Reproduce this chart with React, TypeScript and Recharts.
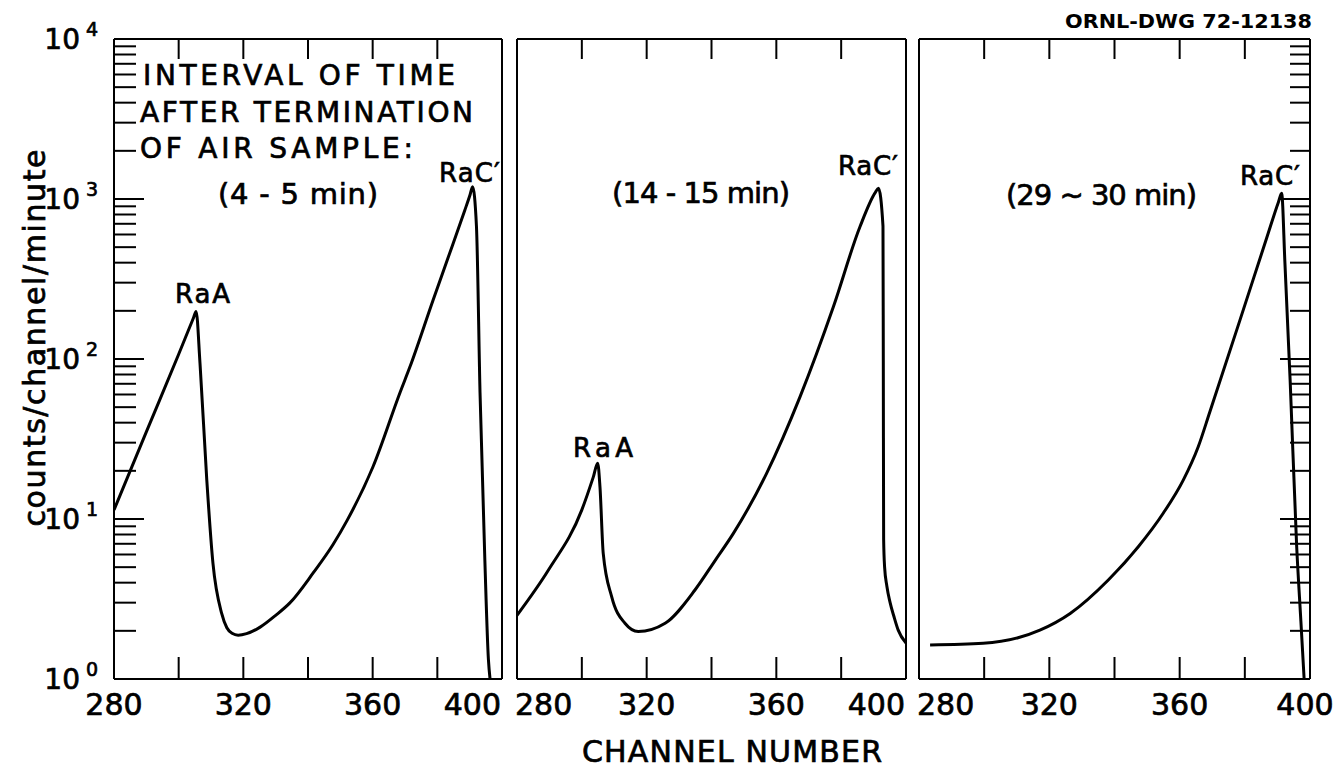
import React from 'react';
import { LineChart, Line, XAxis, YAxis } from 'recharts';

// ---------- data ----------
const panel1Channels = [280, 290, 300, 304.5, 305.4, 306.6, 308.7, 310.6, 313.3, 314.9, 316.5, 318.4, 321, 325.2, 330, 334.4, 341.6, 347.7, 352.1, 360.1, 368.5, 371.5, 378.7, 383.1, 388.5, 390.1, 390.9, 392.1, 393.2, 394.7, 395.8, 396.3];
const panel1Counts = [11.4, 35, 107, 179, 198, 94, 17.5, 5.3, 2.57, 2.09, 1.93, 1.88, 1.92, 2.11, 2.5, 2.99, 4.6, 6.9, 9.8, 21.2, 62, 89, 234, 417, 851, 1059, 1194, 676, 62, 5.5, 1.32, 1.0];

const panel2Channels = [280, 289.7, 300, 303.5, 304.9, 305.6, 306.6, 309.2, 313.3, 317.4, 325.7, 334.9, 341.1, 346.7, 357, 367.3, 377.6, 385.8, 390.5, 391.5, 392.9, 393.0, 393.1, 393.4, 394.1, 395.1, 396.3, 397.6, 400];
const panel2Counts = [2.5, 4.8, 11.4, 18.2, 22.3, 15.8, 6.1, 3.27, 2.23, 1.98, 2.23, 3.6, 5.5, 8.1, 19.3, 58, 212, 671, 1096, 1166, 676, 98, 7.5, 5.0, 3.8, 3.0, 2.45, 2.02, 1.68];

const panel3Channels = [283.4, 299.7, 317.1, 326.4, 338.1, 347.3, 355, 361.1, 365.7, 369.3, 378.5, 386.7, 390.3, 391.3, 392.3, 393.9, 395.9, 397.2, 398.2];
const panel3Counts = [1.63, 1.67, 2.02, 2.57, 4.16, 6.71, 10.9, 17.5, 28.3, 47, 175, 570, 955, 1085, 400, 74, 6.8, 2.3, 1.0];

const xTicks = [280, 300, 320, 340, 360, 380, 400];
const xLabelledTicks = [280, 320, 360, 400];
const yTicks = [1, 2, 3, 4, 5, 6, 7, 8, 9, 10, 20, 30, 40, 50, 60, 70, 80, 90, 100, 200, 300, 400, 500, 600, 700, 800, 900, 1000, 2000, 3000, 4000, 5000, 6000, 7000, 8000, 9000, 10000];
const yDecades = [1, 10, 100, 1000, 10000];

const intervalLabels = ['(4 - 5 min)', '(14 - 15 min)', '(29 ~ 30 min)'];
const headerLines = ['INTERVAL OF TIME', 'AFTER TERMINATION', 'OF AIR SAMPLE:'];
const drawingId = 'ORNL-DWG 72-12138';
const xTitle = 'CHANNEL NUMBER';
const yTitle = 'counts/channel/minute';
const peakRaA = 'RaA';
const peakRaC = 'RaC\u2032';

const build = (ch: number[], v: number[]) => ch.map((c, i) => ({ ch: c, v: v[i] }));
const panelData = [
  build(panel1Channels, panel1Counts),
  build(panel2Channels, panel2Counts),
  build(panel3Channels, panel3Counts),
];

// ---------- layout ----------
const W = 1340;
const H = 768;
const TOP = 39;
const BOTTOM = 679;
const PANELS = [
  { left: 114, right: 502 },
  { left: 517, right: 906 },
  { left: 919, right: 1310 },
];
const AX_TOP_H = 10;
const AX_BOTTOM_H = 40;
const AX_SIDE_W = 10;
const FONT = '"DejaVu Sans", "Liberation Sans", sans-serif';
const frameLine = { stroke: '#000', strokeWidth: 2 };
const heavy = { stroke: '#000', strokeWidth: 0.7 };

const renderBottomTick = (panel: number) => (props: any) => {
  const { x, y, payload } = props;
  const v = payload.value;
  const edge = v === 280 || v === 400;
  let anchor: 'middle' | 'start' | 'end' = 'middle';
  let dx = 0;
  if (panel > 0 && v === 280) { anchor = 'start'; dx = -2; }
  if (panel < 2 && v === 400) { anchor = 'end'; dx = -1; }
  if (panel === 2 && v === 400) { dx = -5; }
  return (
    <g>
      {!edge && <line x1={x} y1={y} x2={x} y2={y - 22} stroke="#000" strokeWidth={2} />}
      {xLabelledTicks.includes(v) && (
        <text x={x + dx} y={y + 36} textAnchor={anchor} fontFamily={FONT} fontSize={30} fill="#000" {...heavy}>
          {v}
        </text>
      )}
    </g>
  );
};

const renderTopTick = (props: any) => {
  const { x, y, payload } = props;
  const v = payload.value;
  if (v === 280 || v === 400) return <g />;
  return <line x1={x} y1={y} x2={x} y2={y + 20} stroke="#000" strokeWidth={2} />;
};

const renderLeftTick = (props: any) => {
  const { x, y, payload } = props;
  const v = payload.value;
  const isDecade = yDecades.includes(v);
  const len = isDecade ? 30 : 22;
  const exp = Math.round(Math.log10(v));
  return (
    <g>
      <line x1={x} y1={y} x2={x + len} y2={y} stroke="#000" strokeWidth={2} />
      {isDecade && (
        <text x={x - 34} y={y + 10} textAnchor="end" fontFamily={FONT} fontSize={28} fill="#000" {...heavy}>
          10
        </text>
      )}
      {isDecade && (
        <text x={x - 28} y={y - 3} textAnchor="start" fontFamily={FONT} fontSize={19} fill="#000" {...heavy}>
          {exp}
        </text>
      )}
    </g>
  );
};

const renderRightTick = (props: any) => {
  const { x, y, payload } = props;
  const v = payload.value;
  const len = yDecades.includes(v) ? 30 : 20;
  return <line x1={x} y1={y} x2={x - len} y2={y} stroke="#000" strokeWidth={2} />;
};

function Panel({ index }: { index: number }) {
  const { left, right } = PANELS[index];
  const margin = {
    top: TOP - AX_TOP_H,
    bottom: H - BOTTOM - AX_BOTTOM_H,
    left: left - AX_SIDE_W,
    right: W - right - AX_SIDE_W,
  };
  return (
    <div style={{ position: 'absolute', left: 0, top: 0, width: W, height: H }}>
      <LineChart width={W} height={H} data={panelData[index]} margin={margin}>
        <XAxis
          xAxisId="b"
          dataKey="ch"
          type="number"
          domain={[280, 400]}
          ticks={xTicks}
          interval={0}
          allowDataOverflow
          orientation="bottom"
          height={AX_BOTTOM_H}
          tickSize={0}
          tickMargin={0}
          tickLine={false}
          axisLine={frameLine}
          tick={renderBottomTick(index)}
        />
        <XAxis
          xAxisId="t"
          dataKey="ch"
          type="number"
          domain={[280, 400]}
          ticks={xTicks}
          interval={0}
          allowDataOverflow
          orientation="top"
          height={AX_TOP_H}
          tickSize={0}
          tickMargin={0}
          tickLine={false}
          axisLine={frameLine}
          tick={renderTopTick}
        />
        <YAxis
          yAxisId="l"
          type="number"
          scale="log"
          domain={[1, 10000]}
          ticks={yTicks}
          interval={0}
          allowDataOverflow
          orientation="left"
          width={AX_SIDE_W}
          tickSize={0}
          tickMargin={0}
          tickLine={false}
          axisLine={frameLine}
          tick={index === 0 ? renderLeftTick : false}
        />
        <YAxis
          yAxisId="r"
          type="number"
          scale="log"
          domain={[1, 10000]}
          ticks={yTicks}
          interval={0}
          allowDataOverflow
          orientation="right"
          width={AX_SIDE_W}
          tickSize={0}
          tickMargin={0}
          tickLine={false}
          axisLine={frameLine}
          tick={index === 2 ? renderRightTick : false}
        />
        <Line
          xAxisId="b"
          yAxisId="l"
          dataKey="v"
          type="monotone"
          stroke="#000"
          strokeWidth={3}
          dot={false}
          isAnimationActive={false}
        />
      </LineChart>
    </div>
  );
}

function Overlay() {
  const t = { fontFamily: FONT, fill: '#000', ...heavy } as const;
  return (
    <svg width={W} height={H} style={{ position: 'absolute', left: 0, top: 0, pointerEvents: 'none' }}>
      <text x={1312} y={28} textAnchor="end" fontSize={19} fontWeight="bold" fontFamily={FONT} fill="#000" textLength={247} lengthAdjust="spacingAndGlyphs">{drawingId}</text>

      <text x={143} y={85} fontSize={28} {...t} textLength={312} lengthAdjust="spacing">{headerLines[0]}</text>
      <text x={140} y={122} fontSize={28} {...t} textLength={333} lengthAdjust="spacing">{headerLines[1]}</text>
      <text x={140} y={158} fontSize={28} {...t} textLength={273} lengthAdjust="spacing">{headerLines[2]}</text>

      <text x={218} y={204} fontSize={29} {...t} textLength={160} lengthAdjust="spacing">{intervalLabels[0]}</text>
      <text x={612} y={203} fontSize={29} {...t} textLength={178} lengthAdjust="spacing">{intervalLabels[1]}</text>
      <text x={1006} y={205} fontSize={29} {...t} textLength={191} lengthAdjust="spacing">{intervalLabels[2]}</text>

      <text x={175} y={303} fontSize={26} {...t} textLength={55} lengthAdjust="spacing">{peakRaA}</text>
      <text x={439} y={182} fontSize={26} {...t} textLength={61} lengthAdjust="spacing">{peakRaC}</text>
      <text x={573} y={457} fontSize={26} {...t} textLength={60} lengthAdjust="spacing">{peakRaA}</text>
      <text x={838} y={175} fontSize={26} {...t} textLength={60} lengthAdjust="spacing">{peakRaC}</text>
      <text x={1240} y={185} fontSize={26} {...t} textLength={60} lengthAdjust="spacing">{peakRaC}</text>

      <text x={732} y={762} textAnchor="middle" fontSize={30} {...t} textLength={300} lengthAdjust="spacing">{xTitle}</text>
      <text x={45} y={338} textAnchor="middle" fontSize={30} {...t} transform="rotate(-90, 45, 338)" textLength={377} lengthAdjust="spacing">{yTitle}</text>
    </svg>
  );
}

export default function App() {
  return (
    <div style={{ position: 'absolute', left: 0, top: 0, width: W, height: H, background: '#fff', overflow: 'hidden' }}>
      <Panel index={0} />
      <Panel index={1} />
      <Panel index={2} />
      <Overlay />
    </div>
  );
}
